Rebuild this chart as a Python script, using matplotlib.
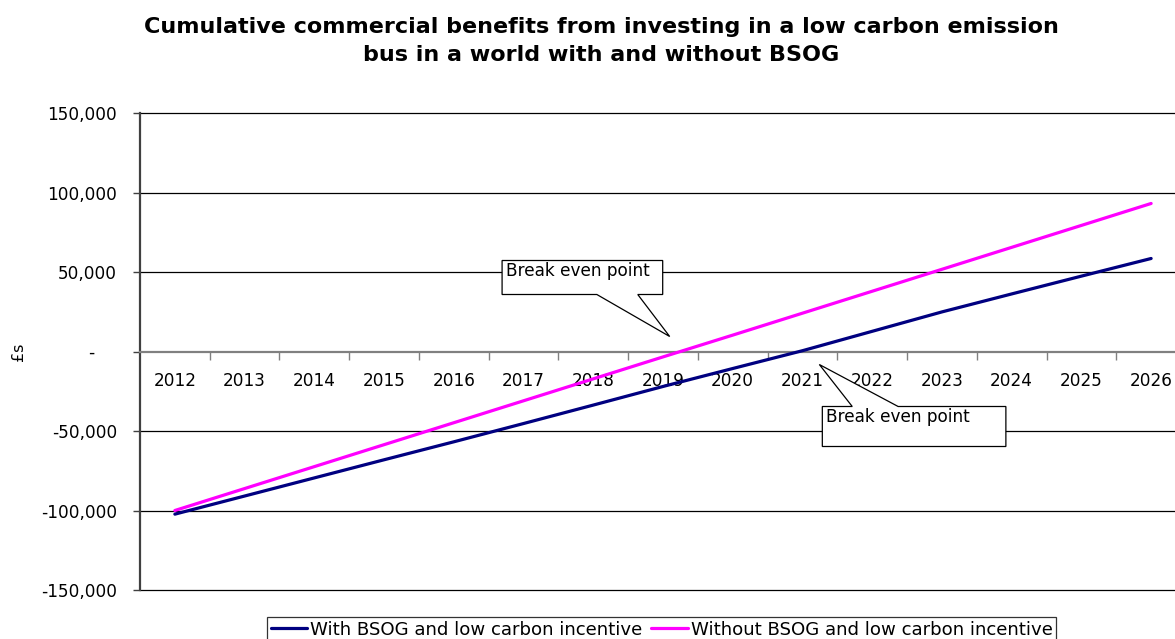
import matplotlib
matplotlib.use("Agg")
import matplotlib.pyplot as plt
from matplotlib.patches import Polygon
from matplotlib.ticker import FixedLocator, FuncFormatter

years = [str(y) for y in range(2012, 2027)]
with_bsog = [-102300, -90900, -79500, -68100, -56800, -45300, -33700, -22000,
             -10700, 500, 12700, 24900, 36200, 47400, 58500]
without_bsog = [-100000, -86200, -72400, -58600, -44800, -31000, -17200, -3400,
                10300, 24100, 37900, 51700, 65500, 79300, 93100]
series_labels = ["With BSOG and low carbon incentive",
                 "Without BSOG and low carbon incentive"]
title = ("Cumulative commercial benefits from investing in a low carbon emission\n"
         "bus in a world with and without BSOG")
y_ticks = [-150000, -100000, -50000, 0, 50000, 100000, 150000]
callout_text = "Break even point"

plt.rcParams['font.family'] = ['DejaVu Sans']
FS = 12.2

W, H = 1175, 639
fig = plt.figure(figsize=(W / 100, H / 100), dpi=100)
fig.patch.set_facecolor('white')

# axes area in pixels: left 140, right 1186 (beyond figure), top 113, bottom 590
ax = fig.add_axes([140 / W, (H - 590) / H, (1186 - 140) / W, (590 - 113) / H])
x = list(range(len(years)))
ax.set_xlim(-0.5, len(years) - 0.5)
ax.set_ylim(-150000, 150000)

# gridlines
for v in y_ticks:
    if v != 0:
        ax.axhline(v, color='black', lw=0.9, zorder=1, clip_on=False)

ax.plot(x, with_bsog, color='#000080', lw=2.3, label=series_labels[0], zorder=4,
        solid_capstyle='round')
ax.plot(x, without_bsog, color='#FF00FF', lw=2.3, label=series_labels[1], zorder=4,
        solid_capstyle='round')

for s in ['top', 'right']:
    ax.spines[s].set_visible(False)
ax.spines['left'].set_color('#404040')
ax.spines['left'].set_linewidth(1.6)
ax.spines['bottom'].set_position(('data', 0))
ax.spines['bottom'].set_color('#808080')
ax.spines['bottom'].set_linewidth(1.6)
ax.spines['bottom'].set_zorder(3)

ax.yaxis.set_major_locator(FixedLocator(y_ticks))
ax.yaxis.set_major_formatter(FuncFormatter(
    lambda v, p: "-    " if v == 0 else f"{int(v):,}"))
ax.tick_params(axis='y', direction='out', length=5, width=1, color='#404040',
               labelsize=FS, pad=11.5, labelcolor='black')

ax.xaxis.set_major_locator(FixedLocator(x))
ax.set_xticklabels(years)
ax.xaxis.set_minor_locator(FixedLocator([i + 0.5 for i in x]))
ax.tick_params(axis='x', which='major', length=0, labelsize=FS, pad=15)
ax.tick_params(axis='x', which='minor', direction='out', length=6, width=1,
               color='#808080')

fig.text(19 / W, 1 - 352 / H, "£s", rotation=90, fontsize=11.5,
         ha='center', va='center')

fig.text(601 / W, 1 - 41 / H, title, fontsize=16, fontweight='bold',
         ha='center', va='center', linespacing=1.55)


def px2d(px, py):
    return ((px - 174) / 69.9, (352 - py) * 50000 / 79.5)


def callout(box, base, tip, side, text_off):
    l, r, t, b = box
    if side == 'bottom':
        pts = [(l, t), (r, t), (r, b), (base[1], b), tip, (base[0], b), (l, b)]
    else:
        pts = [(l, t), (base[0], t), tip, (base[1], t), (r, t), (r, b), (l, b)]
    poly = Polygon([px2d(*p) for p in pts], closed=True, facecolor='white',
                   edgecolor='black', lw=0.9, zorder=6)
    ax.add_patch(poly)
    ax.text(*px2d(l + text_off[0], t + text_off[1]), callout_text, fontsize=FS,
            ha='left', va='top', zorder=7)


callout((502, 663, 261, 295), (597, 638), (670, 337), 'bottom', (4, 2))
callout((823, 1007, 407, 447), (853, 899), (820, 365), 'top', (4, 2))

leg = fig.legend(loc='upper left', bbox_to_anchor=(267 / W, 1 - 617 / H),
                 ncol=2, frameon=True, fancybox=False, fontsize=13.1,
                 handlelength=2.0, handletextpad=0.17, columnspacing=0.5,
                 borderpad=0.2, borderaxespad=0)
leg.get_frame().set_edgecolor('black')
leg.get_frame().set_linewidth(0.9)

fig.savefig('out.png', dpi=100)
